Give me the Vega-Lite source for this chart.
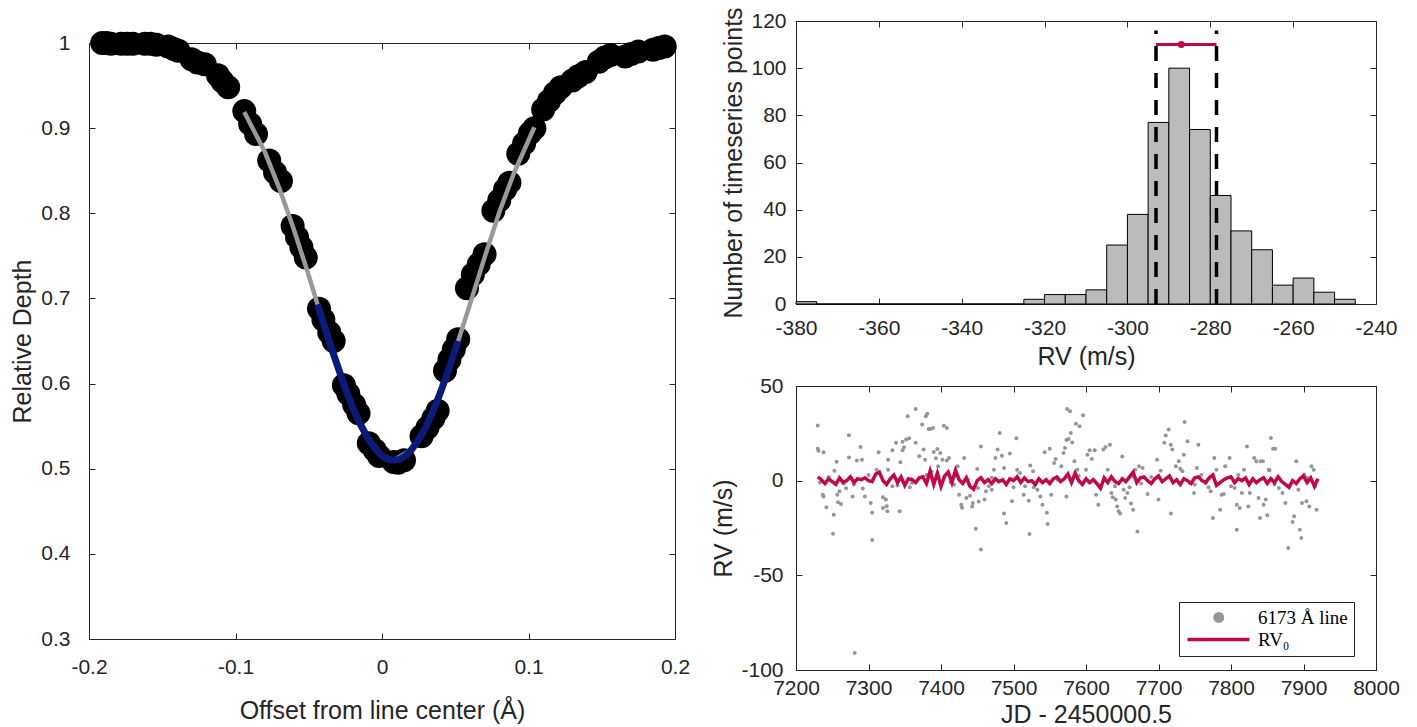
{
  "$schema": "https://vega.github.io/schema/vega-lite/v6.json",
  "padding": {"left": 10, "top": 6, "right": 0, "bottom": 0},
  "background": "white",
  "config": {
    "font": "Liberation Sans",
    "view": {"stroke": "#262626", "strokeWidth": 1},
    "axis": {
      "labelFont": "Liberation Sans", "labelFontSize": 21, "labelColor": "#262626", "labelFlush": false,
      "titleFont": "Liberation Sans", "titleFontSize": 25, "titleColor": "#262626", "titleFontWeight": "normal",
      "domainColor": "#262626", "tickColor": "#262626", "grid": false, "tickSize": -6, "labelPadding": 14,
      "labelExpr": "replace(datum.label, '\u2212', '-')"
    },
    "legend": {
      "labelFont": "Liberation Serif", "labelFontSize": 19, "labelColor": "#000000",
      "strokeColor": "#262626", "fillColor": "#ffffff", "padding": 6, "labelOffset": 54,
      "symbolSize": 100, "symbolStrokeWidth": 3.5, "symbolOpacity": 1, "rowPadding": 0
    }
  },
  "datasets": {
    "profile": [
      {"x": -0.191, "y": 1.0}, {"x": -0.188, "y": 1.0}, {"x": -0.185, "y": 0.999},
      {"x": -0.178, "y": 0.999}, {"x": -0.174, "y": 0.999}, {"x": -0.170, "y": 0.999},
      {"x": -0.162, "y": 0.999}, {"x": -0.158, "y": 0.999}, {"x": -0.154, "y": 0.998},
      {"x": -0.146, "y": 0.996}, {"x": -0.142, "y": 0.993}, {"x": -0.139, "y": 0.991},
      {"x": -0.130, "y": 0.981}, {"x": -0.126, "y": 0.977}, {"x": -0.121, "y": 0.975},
      {"x": -0.112, "y": 0.962}, {"x": -0.109, "y": 0.955}, {"x": -0.105, "y": 0.948},
      {"x": -0.094, "y": 0.920}, {"x": -0.090, "y": 0.905}, {"x": -0.086, "y": 0.893},
      {"x": -0.077, "y": 0.862}, {"x": -0.073, "y": 0.848}, {"x": -0.069, "y": 0.838},
      {"x": -0.061, "y": 0.785}, {"x": -0.058, "y": 0.772}, {"x": -0.055, "y": 0.760}, {"x": -0.052, "y": 0.748},
      {"x": -0.043, "y": 0.688}, {"x": -0.040, "y": 0.675}, {"x": -0.036, "y": 0.660}, {"x": -0.033, "y": 0.650},
      {"x": -0.026, "y": 0.598}, {"x": -0.023, "y": 0.588}, {"x": -0.019, "y": 0.575}, {"x": -0.016, "y": 0.565},
      {"x": -0.009, "y": 0.530}, {"x": -0.005, "y": 0.522}, {"x": -0.002, "y": 0.515},
      {"x": 0.008, "y": 0.508}, {"x": 0.011, "y": 0.507}, {"x": 0.015, "y": 0.510},
      {"x": 0.027, "y": 0.538}, {"x": 0.031, "y": 0.548}, {"x": 0.035, "y": 0.559}, {"x": 0.038, "y": 0.568},
      {"x": 0.043, "y": 0.615}, {"x": 0.046, "y": 0.628}, {"x": 0.049, "y": 0.640}, {"x": 0.052, "y": 0.652},
      {"x": 0.058, "y": 0.712}, {"x": 0.062, "y": 0.728}, {"x": 0.066, "y": 0.740}, {"x": 0.070, "y": 0.752},
      {"x": 0.076, "y": 0.803}, {"x": 0.080, "y": 0.815}, {"x": 0.084, "y": 0.828}, {"x": 0.087, "y": 0.836},
      {"x": 0.093, "y": 0.870}, {"x": 0.097, "y": 0.882}, {"x": 0.101, "y": 0.894}, {"x": 0.104, "y": 0.900},
      {"x": 0.110, "y": 0.922}, {"x": 0.114, "y": 0.932}, {"x": 0.118, "y": 0.941}, {"x": 0.122, "y": 0.948},
      {"x": 0.130, "y": 0.956}, {"x": 0.134, "y": 0.961}, {"x": 0.139, "y": 0.966},
      {"x": 0.148, "y": 0.978}, {"x": 0.152, "y": 0.983}, {"x": 0.156, "y": 0.986},
      {"x": 0.166, "y": 0.984}, {"x": 0.170, "y": 0.987}, {"x": 0.175, "y": 0.990},
      {"x": 0.185, "y": 0.992}, {"x": 0.189, "y": 0.994}, {"x": 0.193, "y": 0.996}
    ],
    "fitgrey": [
      {"x": -0.094, "y": 0.919}, {"x": -0.08, "y": 0.872}, {"x": -0.07, "y": 0.829}, {"x": -0.06, "y": 0.780},
      {"x": -0.05, "y": 0.727}, {"x": -0.044, "y": 0.693}, {"x": -0.04, "y": 0.671}, {"x": -0.03, "y": 0.619},
      {"x": -0.02, "y": 0.572}, {"x": -0.01, "y": 0.537}, {"x": 0.0, "y": 0.515}, {"x": 0.008, "y": 0.510},
      {"x": 0.02, "y": 0.522}, {"x": 0.03, "y": 0.549}, {"x": 0.04, "y": 0.590}, {"x": 0.052, "y": 0.650},
      {"x": 0.06, "y": 0.693}, {"x": 0.07, "y": 0.748}, {"x": 0.08, "y": 0.801}, {"x": 0.09, "y": 0.847},
      {"x": 0.104, "y": 0.901}
    ],
    "fitblue": [
      {"x": -0.044, "y": 0.693}, {"x": -0.04, "y": 0.671}, {"x": -0.035, "y": 0.644}, {"x": -0.03, "y": 0.619},
      {"x": -0.025, "y": 0.594}, {"x": -0.02, "y": 0.572}, {"x": -0.015, "y": 0.553}, {"x": -0.01, "y": 0.537},
      {"x": -0.005, "y": 0.524}, {"x": 0.0, "y": 0.515}, {"x": 0.004, "y": 0.511}, {"x": 0.008, "y": 0.510},
      {"x": 0.012, "y": 0.511}, {"x": 0.016, "y": 0.515}, {"x": 0.02, "y": 0.522}, {"x": 0.025, "y": 0.534},
      {"x": 0.03, "y": 0.549}, {"x": 0.035, "y": 0.568}, {"x": 0.04, "y": 0.590}, {"x": 0.046, "y": 0.619},
      {"x": 0.052, "y": 0.650}
    ],
    "hist": [
      {"lo": -380, "hi": -375, "n": 1}, {"lo": -375, "hi": -370, "n": 0}, {"lo": -370, "hi": -365, "n": 0},
      {"lo": -365, "hi": -360, "n": 0}, {"lo": -360, "hi": -355, "n": 0}, {"lo": -355, "hi": -350, "n": 0},
      {"lo": -350, "hi": -345, "n": 0}, {"lo": -345, "hi": -340, "n": 0}, {"lo": -340, "hi": -335, "n": 0},
      {"lo": -335, "hi": -330, "n": 0}, {"lo": -330, "hi": -325, "n": 0},
      {"lo": -325, "hi": -320, "n": 2}, {"lo": -320, "hi": -315, "n": 4}, {"lo": -315, "hi": -310, "n": 4},
      {"lo": -310, "hi": -305, "n": 6}, {"lo": -305, "hi": -300, "n": 25}, {"lo": -300, "hi": -295, "n": 38},
      {"lo": -295, "hi": -290, "n": 77}, {"lo": -290, "hi": -285, "n": 100}, {"lo": -285, "hi": -280, "n": 74},
      {"lo": -280, "hi": -275, "n": 46}, {"lo": -275, "hi": -270, "n": 31}, {"lo": -270, "hi": -265, "n": 23},
      {"lo": -265, "hi": -260, "n": 8}, {"lo": -260, "hi": -255, "n": 11}, {"lo": -255, "hi": -250, "n": 5},
      {"lo": -250, "hi": -245, "n": 2}
    ],
    "bounds": [{"x": -293.1, "y0": 0, "y1": 116}, {"x": -278.5, "y0": 0, "y1": 116}],
    "errbar": [{"lo": -293.1, "hi": -278.5, "mid": -287.0, "y": 110}],
    "legendkeys": [
      {"series": "6173 Å line", "t": 7500, "v": 0},
      {"series": "RV₀", "t": 7500, "v": 0}
    ],
    "rv": [
      [7230,29.2],[7230,16.9],[7231,15.8],[7238,15],[7237,-7.4],[7238,-8.3],[7233,-1],[7242,-14],[7252,-18],[7251,-28],
      [7253,5.3],[7256,10],[7257,-7.4],[7260,-5.6],[7258,-11.4],[7262,-12.3],[7273,24],[7273,12.3],[7266,-1.5],[7269,-4],
      [7278,-8.3],[7281,-91],[7284,10.6],[7289,17.8],[7291,11],[7292,-4.2],[7295,-8.3],[7303,-11.8],[7305,-17],[7305,-31.3],
      [7314,15],[7311,5.8],[7320,-8.8],[7324,-10],[7325,-13.5],[7320,-14.4],[7326,-16.2],[7327,11],[7327,5.8],[7333,16],
      [7338,20],[7333,-3],[7343,-16.2],[7344,9.7],[7347,16],[7349,17.6],[7347,20.6],[7352,21.7],[7354,34],[7356,22.4],
      [7357,-3.5],[7360,-1.2],[7365,20],[7365,37.9],[7370,12.9],[7374,29.6],[7376,16.4],[7379,34],[7381,35.4],[7378,11],
      [7383,27.3],[7385,27.3],[7389,27.8],[7390,15.1],[7393,11.8],[7395,16.7],[7396,7.6],[7399,14.6],[7402,11.1],[7404,29],
      [7408,27.8],[7408,10.6],[7411,12],[7387,4.8],[7413,-0.7],[7418,-2],[7423,7.6],[7425,-7.4],[7428,-12.7],[7432,12],
      [7429,-14.3],[7435,-9.2],[7437,0.5],[7440,-8],[7444,-11.8],[7443,-13.6],[7450,6.2],[7448,-25.4],[7455,-36.4],[7455,18],
      [7452,-11],[7451,-3.9],[7460,-10],[7462,-5.6],[7466,-3],[7470,-4.8],[7473,5.8],[7475,12],[7478,16.4],[7481,25.2],
      [7484,13.2],[7487,6.7],[7487,-17.4],[7490,-22.4],[7495,14.3],[7498,-10.9],[7500,-3.5],[7504,22.4],[7505,5.8],[7509,4],
      [7514,-7.4],[7516,-3],[7521,-10.6],[7522,-28.2],[7523,8],[7527,5],[7528,-3.5],[7533,-4.8],[7537,-8.3],[7540,-12.7],
      [7543,15],[7546,-17],[7547,-22.9],[7550,16.9],[7552,-7.4],[7556,9.3],[7558,11.4],[7561,0.5],[7566,7.6],[7569,14.6],
      [7571,17.3],[7573,21.5],[7576,22],[7574,37.9],[7578,36.6],[7579,25.2],[7581,20.2],[7584,10.2],[7586,30.1],[7588,5.8],
      [7591,28.7],[7596,34.5],[7573,-8.3],[7600,5.8],[7602,13.7],[7605,16],[7608,11.4],[7612,16],[7614,-7.4],[7617,-12.7],
      [7620,-3.5],[7624,16.4],[7627,17.8],[7633,19],[7630,5.8],[7635,-6.5],[7637,-8.8],[7641,-10],[7643,-13.6],[7645,-16.2],
      [7647,-17.4],[7650,12.7],[7652,-4.8],[7654,-9.2],[7657,-6.5],[7660,-3.5],[7664,2.3],[7665,-15.3],[7668,5.8],[7671,-26.8],
      [7673,7.6],[7676,-1.5],[7678,6.7],[7662,-12],[7685,-7],[7698,11],[7700,-10],[7703,5.3],[7708,20],[7710,23.8],
      [7714,27],[7717,19],[7717,-17.4],[7719,16.4],[7724,7.6],[7728,10.2],[7730,6.3],[7733,5],[7735,13.7],[7736,31],
      [7740,20.8],[7743,-1.2],[7749,-6.5],[7753,6.7],[7755,19],[7759,3],[7765,-1.2],[7769,-3.5],[7772,-5.6],[7775,-19.7],
      [7777,12],[7780,5.8],[7785,-15.3],[7787,-7.4],[7790,-7],[7792,7.6],[7798,12],[7800,-3],[7805,-3.9],[7808,-12.7],
      [7808,-25.9],[7812,-14.4],[7815,-6.5],[7818,5.8],[7822,18.1],[7824,-13.6],[7826,-6.5],[7832,12],[7835,10.2],[7838,-9.2],
      [7840,-19.7],[7841,10.2],[7844,10.2],[7845,-12.7],[7848,-10],[7850,-18.3],[7853,5.5],[7855,22.5],[7858,16.9],[7861,16.9],
      [7852,5.8],[7866,-3.9],[7871,-6.5],[7875,-11.8],[7879,-35.6],[7885,-21.8],[7887,-18.8],[7890,10.2],[7893,-4.8],[7895,-25.9],
      [7897,-30.3],[7898,-11.8],[7901,3.2],[7904,-10.9],[7908,-13.6],[7911,7.6],[7914,5.8],[7918,-15.3],[7916,-3],
      [7245,2],[7280,-2],[7300,3],[7340,-2.5],[7380,3],[7420,2.5],[7470,1.5],[7530,-2],[7590,2.5],[7640,-3],[7690,2],[7750,-2],[7810,3],[7860,-2],[7905,1.5]
    ],
    "rv0": [
      [7230,2],[7235,0.5],[7240,-1.5],[7245,1],[7250,-0.5],[7255,-2],[7260,1.5],[7265,-1],[7270,0],[7275,2],
      [7280,-1],[7285,1],[7290,0.5],[7295,1.5],[7300,0],[7305,-0.5],[7310,3.5],[7315,4.5],[7320,0],[7325,-2],
      [7330,1],[7335,3],[7340,-1],[7345,2],[7350,-2.5],[7355,1],[7360,0.5],[7365,-1],[7370,1.5],[7375,2],
      [7380,-1.5],[7385,5],[7390,-2],[7395,4],[7400,-3],[7405,2.5],[7410,4.5],[7415,-1],[7420,5.5],[7425,0.5],
      [7430,-1.5],[7435,1.5],[7440,-3],[7445,-4.5],[7450,0],[7455,1.5],[7460,-1],[7465,0.5],[7470,-1.5],[7475,1],
      [7480,-0.5],[7485,0.5],[7490,-2],[7495,1],[7500,0],[7505,2],[7510,-1],[7515,1.5],[7520,-0.5],[7525,0],
      [7530,-2],[7535,1],[7540,-1],[7545,0.5],[7550,-1.5],[7555,1],[7560,2],[7565,-0.5],[7570,1],[7575,3.5],
      [7580,-1],[7585,4],[7590,0],[7595,-2],[7600,1],[7605,-1],[7610,0.5],[7615,-1.5],[7620,-4],[7625,1.5],
      [7630,-1],[7635,2],[7640,-0.5],[7645,-1.5],[7650,1],[7655,-0.5],[7660,2],[7665,4.5],[7670,-1],[7675,1.5],
      [7680,2],[7685,0],[7690,-1.5],[7695,1],[7700,2.5],[7705,-0.5],[7710,1],[7715,2.5],[7720,-1],[7725,0.5],
      [7730,-2],[7735,1],[7740,0],[7745,-1.5],[7750,1.5],[7755,2],[7760,0],[7765,-1],[7770,1.5],[7775,3],
      [7780,-2.5],[7785,-1],[7790,0.5],[7795,1.5],[7800,2],[7805,-1],[7810,1],[7815,0],[7820,1.5],[7825,-2],
      [7830,1],[7835,-1],[7840,0.5],[7845,1.5],[7850,-1.5],[7855,1],[7860,-1],[7865,2],[7870,-0.5],[7875,-2],
      [7880,-3.5],[7885,0],[7890,-1.5],[7895,1],[7900,2.5],[7905,-1],[7910,1.5],[7915,-3],[7920,1]
    ]
  },
  "spacing": 20,
  "hconcat": [
    {
      "spacing": 0,
      "vconcat": [
        {
          "width": 586, "height": 9,
          "view": {"stroke": null},
          "data": {"values": []},
          "mark": {"type": "text"},
          "encoding": {}
        },
        {
          "width": 586, "height": 596,
          "layer": [
            {
              "layer": [
                {
                  "data": {"name": "profile"},
                  "mark": {"type": "circle", "size": 576, "color": "#000000", "opacity": 1},
                  "encoding": {
                    "x": {"field": "x", "type": "quantitative", "scale": {"domain": [-0.2, 0.2], "nice": false},
                      "axis": {"title": "Offset from line center (Å)", "values": [-0.2, -0.1, 0, 0.1, 0.2], "format": ".1~f", "labelPadding": 23, "titlePadding": 21}},
                    "y": {"field": "y", "type": "quantitative", "scale": {"domain": [0.3, 1], "nice": false, "zero": false},
                      "axis": {"title": "Relative Depth", "values": [0.3, 0.4, 0.5, 0.6, 0.7, 0.8, 0.9, 1], "format": ".1~f", "labelPadding": 25, "titlePadding": 5}}
                  }
                },
                {
                  "data": {"name": "fitgrey"},
                  "mark": {"type": "line", "color": "#999999", "strokeWidth": 4.5},
                  "encoding": {"x": {"field": "x", "type": "quantitative"}, "y": {"field": "y", "type": "quantitative"}}
                },
                {
                  "data": {"name": "fitblue"},
                  "mark": {"type": "line", "color": "#0c1a7a", "strokeWidth": 7},
                  "encoding": {"x": {"field": "x", "type": "quantitative"}, "y": {"field": "y", "type": "quantitative"}}
                }
              ]
            },
            {
              "data": {"values": [{"a": 0}]},
              "mark": {"type": "point", "opacity": 0},
              "encoding": {
                "x": {"datum": 0, "type": "quantitative", "scale": {"domain": [-0.2, 0.2], "nice": false},
                  "axis": {"orient": "top", "labels": false, "title": null, "domain": false, "values": [-0.2, -0.1, 0, 0.1, 0.2]}},
                "y": {"datum": 0.5, "type": "quantitative", "scale": {"domain": [0.3, 1], "nice": false, "zero": false},
                  "axis": {"orient": "right", "labels": false, "title": null, "domain": false, "values": [0.3, 0.4, 0.5, 0.6, 0.7, 0.8, 0.9, 1]}}
              }
            }
          ],
          "resolve": {"scale": {"x": "independent", "y": "independent"}}
        }
      ]
    },
    {
      "spacing": 4,
      "resolve": {"legend": {"color": "independent", "shape": "independent", "stroke": "independent"}},
      "vconcat": [
        {
          "width": 580, "height": 283,
          "layer": [
            {
              "layer": [
                {
                  "data": {"name": "hist"},
                  "mark": {"type": "bar", "fill": "#bbbbbb", "stroke": "#000000", "strokeWidth": 1},
                  "encoding": {
                    "x": {"field": "lo", "type": "quantitative", "scale": {"domain": [-380, -240], "nice": false},
                      "axis": {"title": "RV (m/s)", "values": [-380, -360, -340, -320, -300, -280, -260, -240], "labelPadding": 19, "titlePadding": 6}},
                    "x2": {"field": "hi"},
                    "y": {"field": "n", "type": "quantitative", "scale": {"domain": [0, 120], "nice": false},
                      "axis": {"title": "Number of timeseries points", "values": [0, 20, 40, 60, 80, 100, 120], "labelPadding": 16, "titlePadding": 4}},
                    "y2": {"datum": 0}
                  }
                },
                {
                  "data": {"name": "bounds"},
                  "mark": {"type": "rule", "color": "#000000", "strokeWidth": 3.5, "strokeDash": [15, 12]},
                  "encoding": {"x": {"field": "x", "type": "quantitative"}, "y": {"field": "y0", "type": "quantitative"}, "y2": {"field": "y1"}}
                },
                {
                  "data": {"name": "errbar"},
                  "mark": {"type": "rule", "color": "#c0084a", "strokeWidth": 3},
                  "encoding": {"x": {"field": "lo", "type": "quantitative"}, "x2": {"field": "hi"}, "y": {"field": "y", "type": "quantitative"}}
                },
                {
                  "data": {"name": "errbar"},
                  "mark": {"type": "circle", "color": "#c0084a", "size": 49, "opacity": 1},
                  "encoding": {"x": {"field": "mid", "type": "quantitative"}, "y": {"field": "y", "type": "quantitative"}}
                }
              ]
            },
            {
              "data": {"values": [{"a": 0}]},
              "mark": {"type": "point", "opacity": 0},
              "encoding": {
                "x": {"datum": -300, "type": "quantitative", "scale": {"domain": [-380, -240], "nice": false},
                  "axis": {"orient": "top", "labels": false, "title": null, "domain": false, "values": [-380, -360, -340, -320, -300, -280, -260, -240]}},
                "y": {"datum": 50, "type": "quantitative", "scale": {"domain": [0, 120], "nice": false},
                  "axis": {"orient": "right", "labels": false, "title": null, "domain": false, "values": [0, 20, 40, 60, 80, 100, 120]}}
              }
            }
          ],
          "resolve": {"scale": {"x": "independent", "y": "independent"}}
        },
        {
          "width": 580, "height": 284,
          "layer": [
            {
              "layer": [
                {
                  "data": {"name": "rv"},
                  "transform": [
                    {"calculate": "datum[0]", "as": "t"}, {"calculate": "datum[1]", "as": "v"}
                  ],
                  "mark": {"type": "circle", "size": 16, "opacity": 1, "color": "#969696"},
                  "encoding": {
                    "x": {"field": "t", "type": "quantitative", "scale": {"domain": [7200, 8000], "nice": false},
                      "axis": {"title": "JD - 2450000.5", "values": [7200, 7300, 7400, 7500, 7600, 7700, 7800, 7900, 8000], "format": "d", "labelPadding": 13, "titlePadding": 4}},
                    "y": {"field": "v", "type": "quantitative", "scale": {"domain": [-100, 50], "nice": false},
                      "axis": {"title": "RV (m/s)", "values": [-100, -50, 0, 50], "format": "d", "labelPadding": 19, "titlePadding": 4}}
                  }
                },
                {
                  "data": {"name": "rv0"},
                  "transform": [
                    {"calculate": "datum[0]", "as": "t"}, {"calculate": "datum[1]", "as": "v"}
                  ],
                  "mark": {"type": "line", "strokeWidth": 3.5, "color": "#c0084a"},
                  "encoding": {
                    "x": {"field": "t", "type": "quantitative"},
                    "y": {"field": "v", "type": "quantitative"}
                  }
                },
                {
                  "data": {"name": "legendkeys"},
                  "mark": {"type": "point", "filled": true, "opacity": 0, "strokeWidth": 3.5, "size": 100},
                  "encoding": {
                    "x": {"field": "t", "type": "quantitative"},
                    "y": {"field": "v", "type": "quantitative"},
                    "color": {"field": "series", "type": "nominal",
                      "scale": {"domain": ["6173 Å line", "RV₀"], "range": ["#969696", "#c0084a"]},
                      "legend": {"title": null, "orient": "none", "legendX": 383, "legendY": 216}},
                    "shape": {"field": "series", "type": "nominal",
                      "scale": {"domain": ["6173 Å line", "RV₀"], "range": [
                        "M5.95,0L5.866,0.421L5.628,0.778L5.271,1.016L4.85,1.1L4.429,1.016L4.072,0.778L3.834,0.421L3.75,0L3.834,-0.421L4.072,-0.778L4.429,-1.016L4.85,-1.1L5.271,-1.016L5.628,-0.778L5.866,-0.421Z",
                        "M-1.4,0L11,0"]},
                      "legend": {"title": null, "orient": "none", "legendX": 383, "legendY": 216}},
                    "stroke": {"field": "series", "type": "nominal",
                      "scale": {"domain": ["6173 Å line", "RV₀"], "range": ["transparent", "#c0084a"]},
                      "legend": {"title": null, "orient": "none", "legendX": 383, "legendY": 216}}
                  }
                }
              ]
            },
            {
              "data": {"values": [{"a": 0}]},
              "mark": {"type": "point", "opacity": 0},
              "encoding": {
                "x": {"datum": 7500, "type": "quantitative", "scale": {"domain": [7200, 8000], "nice": false},
                  "axis": {"orient": "top", "labels": false, "title": null, "domain": false, "values": [7200, 7300, 7400, 7500, 7600, 7700, 7800, 7900, 8000]}},
                "y": {"datum": 0, "type": "quantitative", "scale": {"domain": [-100, 50], "nice": false},
                  "axis": {"orient": "right", "labels": false, "title": null, "domain": false, "values": [-100, -50, 0, 50]}}
              }
            }
          ],
          "resolve": {"scale": {"x": "independent", "y": "independent"}}
        }
      ]
    }
  ]
}
